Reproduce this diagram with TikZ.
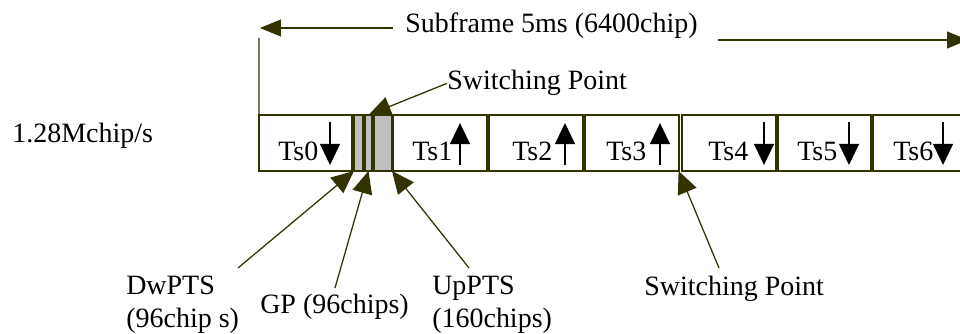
\documentclass[tikz,border=0pt]{standalone}
\usepackage{fontspec}
\setmainfont{Liberation Serif}
\usetikzlibrary{arrows.meta}
\definecolor{framecol}{RGB}{51,51,0}
\definecolor{gapgray}{RGB}{192,192,192}

\begin{document}
\begin{tikzpicture}[x=0.025cm, y=-0.025cm,
	font=\fontsize{19.9}{22}\selectfont,
	slot/.style={draw=framecol, line width=1.3pt, minimum height=1.4cm, inner sep=0pt, outer sep=0pt},
	tsbox/.style={slot, minimum width=2.33cm},
	gapbox/.style={slot, fill=gapgray},
	lbl/.style={anchor=base west, inner sep=0pt},
	pointer/.style={draw=framecol, line width=0.9pt, -{Triangle[length=0.56cm,width=0.5cm]}},
	span/.style={draw=framecol, line width=0.9pt, -{Triangle[length=0.52cm,width=0.42cm]}},
	updown/.style={line width=1.1pt, -{Triangle[length=0.53cm,width=0.5cm]}}]
	\useasboundingbox (0,0) rectangle (960,334);
	\clip (0,0) rectangle (960,334);
	% subframe
	\node[tsbox] (ts0) at (305.5,143) {};
	\node[gapbox, minimum width=0.225cm] (dw) at (358.5,143) {};
	\node[gapbox, minimum width=0.175cm] (gp) at (368.5,143) {};
	\node[gapbox, minimum width=0.45cm] (up) at (383,143) {};
	\node[tsbox] (ts1) at (440,143) {};
	\node[tsbox] (ts2) at (536,143) {};
	\node[tsbox] (ts3) at (632,143) {};
	\node[tsbox] (ts4) at (729,143) {};
	\node[tsbox] (ts5) at (824.5,143) {};
	\node[tsbox] (ts6) at (920,143) {};
	% time slots
	\node[lbl] (ts0txt) at (278,161) {Ts0};
	\node[lbl] (ts1txt) at (412,161) {Ts1};
	\node[lbl] (ts2txt) at (512,161) {Ts2};
	\node[lbl] (ts3txt) at (606,161) {Ts3};
	\node[lbl] (ts4txt) at (708,161) {Ts4};
	\node[lbl] (ts5txt) at (797,161) {Ts5};
	\node[lbl] (ts6txt) at (893,161) {Ts6};
	\draw[updown] (330,122) -- (330,165);
	\draw[updown] (460,165) -- (460,123);
	\draw[updown] (565,165) -- (565,123);
	\draw[updown] (660,165) -- (660,123);
	\draw[updown] (764,122) -- (764,165);
	\draw[updown] (849,122) -- (849,165);
	\draw[updown] (943,122) -- (943,165);
	% length of the subframe
	\node[anchor=base, inner sep=0pt] (subframe) at (551.5,33) {Subframe 5ms (6400chip)};
	\coordinate (tick) at (259,38);
	\coordinate (leftfrom) at (393,28);
	\coordinate (lefttip) at (260,28);
	\coordinate (rightfrom) at (718,40);
	\coordinate (righttip) at (968,40);
	\draw[framecol, line width=0.9pt] (ts0.north west) -- (tick);
	\draw[span] (leftfrom) -- (lefttip);
	\draw[span] (rightfrom) -- (righttip);
	\node[lbl] (rate) at (12,143) {1.28Mchip/s};
	% switching points
	\node[lbl] (swtop) at (447,90) {Switching Point};
	\draw[pointer] (swtop.west) -- (gp.north);
	\node[lbl] (swbot) at (644,295) {Switching Point};
	\coordinate (swfrom) at (719,268);
	\draw[pointer] (swfrom) -- (ts3.south east);
	% special slots
	\node[lbl] (dwname) at (126,294) {DwPTS};
	\node[lbl] (dwsize) at (126,327) {(96chip s)};
	\node[lbl] (gpname) at (260,313) {GP (96chips)};
	\node[lbl] (upname) at (432,294) {UpPTS};
	\node[lbl] (upsize) at (432,327) {(160chips)};
	\coordinate (dwfrom) at (238,268);
	\coordinate (gpfrom) at (335,288);
	\coordinate (upfrom) at (469,268);
	\draw[pointer] (dwfrom) -- (dw.south west);
	\draw[pointer] (gpfrom) -- (gp.south);
	\draw[pointer] (upfrom) -- (up.south east);
\end{tikzpicture}
\end{document}
